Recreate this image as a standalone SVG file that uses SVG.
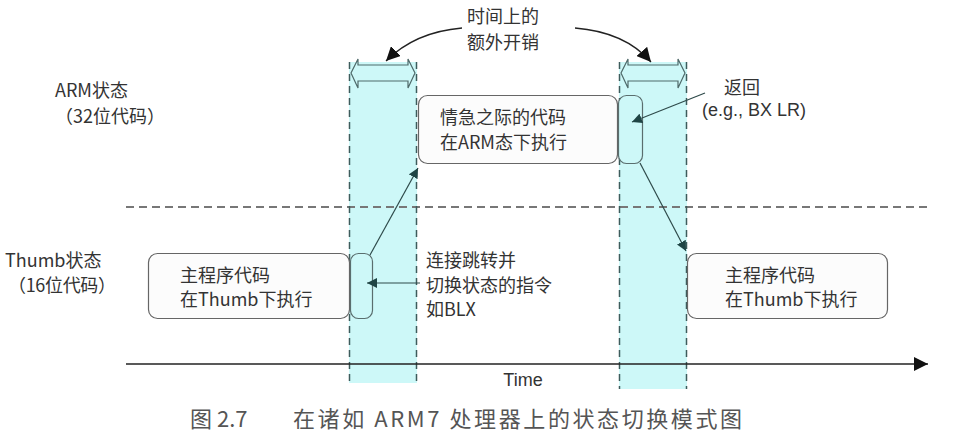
<svg xmlns="http://www.w3.org/2000/svg" width="962" height="433" viewBox="0 0 962 433">
<defs>
<style>
.t{font-family:"Noto Sans CJK SC","Liberation Sans",sans-serif;font-size:18px;fill:#333}
.lat{font-family:"Liberation Sans","Noto Sans CJK SC",sans-serif;font-size:18px;fill:#333}
.cap{font-family:"Noto Sans CJK SC","Liberation Sans",sans-serif;font-size:22px;fill:#555}
.band{fill:#cdf8f8}
.vd{stroke:#3d5c5c;stroke-width:1.5;stroke-dasharray:7 5;fill:none}
.box{fill:#fcfcfc;stroke:#666;stroke-width:1.2}
.sbox{fill:#cdf8f8;stroke:#5a6e6e;stroke-width:1.2}
.con{stroke:#2e4a4a;stroke-width:1.2;fill:none}
.dbl{fill:#cdf8f8;stroke:#4f6a6a;stroke-width:1.2}
</style>
<marker id="ah" viewBox="0 0 10 10" refX="10" refY="5" markerWidth="10" markerHeight="10" markerUnits="userSpaceOnUse" orient="auto"><path d="M0,0 L10,5 L0,10 Z" fill="#1f4545"/></marker>
<marker id="ak" viewBox="0 0 10 10" refX="10" refY="5" markerWidth="14" markerHeight="14" markerUnits="userSpaceOnUse" orient="auto"><path d="M0,0 L10,5 L0,10 Z" fill="#111"/></marker>
</defs>
<rect width="962" height="433" fill="#fff"/>
<g id="bands">
<rect class="band" x="349" y="62" width="68" height="321"/>
<rect class="band" x="619" y="62" width="68" height="327"/>
</g>
<g id="separator">
<line x1="126" y1="207" x2="930" y2="207" stroke="#777" stroke-width="2" stroke-dasharray="8 5"/>
</g>
<g id="band-edges">
<line class="vd" x1="349.5" y1="62" x2="349.5" y2="383"/>
<line class="vd" x1="416.5" y1="62" x2="416.5" y2="383"/>
<line class="vd" x1="619.5" y1="62" x2="619.5" y2="389"/>
<line class="vd" x1="686.5" y1="62" x2="686.5" y2="389"/>
</g>
<g id="overhead-left">
<path class="dbl" d="M351,73 L358,59 L358,65 L408,65 L408,59 L415,73 L408,88 L408,81 L358,81 L358,88 Z"/>
</g>
<g id="overhead-right">
<path class="dbl" d="M621,73 L628,59 L628,65 L678,65 L678,59 L685,73 L678,88 L678,81 L628,81 L628,88 Z"/>
</g>
<g id="time-axis">
<line x1="126" y1="364" x2="928" y2="364" stroke="#222" stroke-width="1.5" marker-end="url(#ak)"/>
<text class="lat" x="523" y="386" text-anchor="middle" font-size="16">Time</text>
</g>
<g id="lbl-arm">
<text class="t" x="55" y="97">ARM状态</text>
<text class="t" x="55" y="122.5" textLength="110">（32位代码）</text>
</g>
<g id="lbl-thumb">
<text class="t" x="5" y="267">Thumb状态</text>
<text class="t" x="8" y="291.5" textLength="108">（16位代码）</text>
</g>
<g id="thumb-main-1">
<rect class="box" x="148.5" y="253.5" width="201" height="65" rx="9"/>
<text class="t" x="180" y="281.5">主程序代码</text>
<text class="t" x="180" y="306">在Thumb下执行</text>
</g>
<g id="blx-block">
<rect class="sbox" x="350.5" y="253.5" width="22" height="65" rx="8"/>
</g>
<g id="arm-code">
<rect class="box" x="418.5" y="95.5" width="199" height="68" rx="9"/>
<text class="t" x="440" y="123.5">情急之际的代码</text>
<text class="t" x="440" y="148.5">在ARM态下执行</text>
</g>
<g id="return-block">
<rect class="sbox" x="618.5" y="95.5" width="24" height="68" rx="8"/>
</g>
<g id="thumb-main-2">
<rect class="box" x="687.5" y="253.5" width="200" height="65" rx="9"/>
<text class="t" x="725" y="281.5">主程序代码</text>
<text class="t" x="725" y="306">在Thumb下执行</text>
</g>
<g id="lbl-overhead">
<text class="t" x="503" y="23" text-anchor="middle">时间上的</text>
<text class="t" x="503" y="48.5" text-anchor="middle">额外开销</text>
</g>
<g id="lbl-return">
<text class="t" x="724" y="94">返回</text>
<text class="lat" x="702" y="116">(e.g., BX LR)</text>
</g>
<g id="lbl-blx">
<text class="t" x="426" y="267">连接跳转并</text>
<text class="t" x="426" y="291.5">切换状态的指令</text>
<text class="t" x="426" y="316">如BLX</text>
</g>
<g id="connectors">
<path class="con" d="M370,255 L418,168" marker-end="url(#ah)"/>
<path class="con" d="M420,283 L367,283" marker-end="url(#ah)"/>
<path class="con" d="M705,93 L632,122" marker-end="url(#ah)"/>
<path class="con" d="M640,163 L686,251" marker-end="url(#ah)"/>
<path d="M462,28 Q415,32 386,61" stroke="#222" stroke-width="1.3" fill="none" marker-end="url(#ak)"/>
<path d="M575,28 Q625,32 651,62" stroke="#222" stroke-width="1.3" fill="none" marker-end="url(#ak)"/>
</g>
<g id="caption">
<text class="cap" x="190" y="427">图 2.7</text>
<text class="cap" x="293" y="427" textLength="449">在诸如 ARM7 处理器上的状态切换模式图</text>
</g>
</svg>
